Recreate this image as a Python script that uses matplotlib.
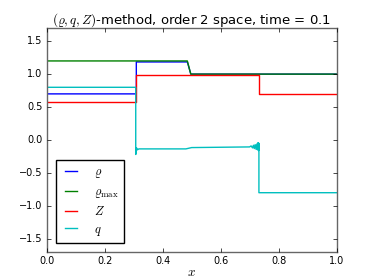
import matplotlib
matplotlib.use("Agg")
import matplotlib.pyplot as plt

plt.style.use("classic")
plt.rcParams["mathtext.fontset"] = "cm"
plt.rcParams["savefig.facecolor"] = "white"
plt.rcParams["figure.facecolor"] = "white"

# polyline vertices
rho_x = [0.0, 0.309, 0.309, 0.485, 0.497, 1.0]
rho_y = [0.70, 0.70, 1.185, 1.185, 1.0, 1.0]

rmax_x = [0.0, 0.485, 0.497, 1.0]
rmax_y = [1.20, 1.20, 1.0, 1.0]

z_x = [0.0, 0.309, 0.309, 0.734, 0.734, 1.0]
z_y = [0.58, 0.58, 0.985, 0.985, 0.70, 0.70]

q_x = [0.0, 0.307, 0.307, 0.310, 0.312, 0.318, 0.48, 0.50, 0.70, 0.705,
       0.710, 0.713, 0.716, 0.719, 0.722, 0.725, 0.727, 0.729, 0.731,
       0.732, 0.732, 1.0]
q_y = [0.80, 0.80, -0.22, -0.12, -0.15, -0.135, -0.135, -0.115, -0.105,
       -0.09, -0.12, -0.08, -0.13, -0.07, -0.14, -0.06, -0.15, -0.04,
       -0.16, -0.05, -0.80, -0.80]

labels = [r"$\varrho$", r"$\varrho_{\max}$", r"$Z$", r"$q$"]

fig = plt.figure(figsize=(3.74, 2.8), dpi=100)
ax = fig.add_axes([0.125, 0.1, 0.775, 0.8])

ax.plot(rho_x, rho_y, "b-", lw=1.0, label=labels[0])
ax.plot(rmax_x, rmax_y, "g-", lw=1.0, label=labels[1])
ax.plot(z_x, z_y, "r-", lw=1.0, label=labels[2])
ax.plot(q_x, q_y, "c-", lw=1.0, label=labels[3])

ax.set_xlim(0, 1)
ax.set_ylim(-1.7, 1.7)
ax.set_xticks([0.0, 0.2, 0.4, 0.6, 0.8, 1.0])
ax.set_yticks([-1.5, -1.0, -0.5, 0.0, 0.5, 1.0, 1.5])
ax.tick_params(labelsize=7, length=3, pad=3)
for s in ax.spines.values():
    s.set_color("0.4")

ax.set_title(r"$(\varrho, q, Z)$-method, order 2 space, time = 0.1",
             fontsize=9.5, pad=3)
ax.set_xlabel(r"$x$", fontsize=9.5, labelpad=0)
ax.legend(loc="lower left", fontsize=9, labelspacing=0.38, handlelength=1.6,
          handletextpad=1.0, borderaxespad=0.7, borderpad=0.45)

fig.savefig("out.png", dpi=100)
